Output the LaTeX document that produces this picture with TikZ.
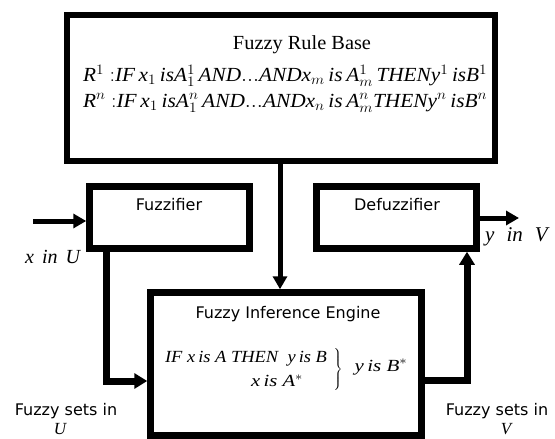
\documentclass[tikz,border=0pt]{standalone}
\usepackage{fontspec}
\usepackage{graphicx}
\setmainfont{Liberation Serif}
\newfontfamily\dvs{DejaVu Sans}
\usetikzlibrary{arrows.meta}
\newcommand{\mi}[1]{\mathit{#1}}
\newcommand{\fsz}[1]{\fontsize{#1}{#1}\selectfont}
\begin{document}
\begin{tikzpicture}[x=1pt,y=-1pt,
  box/.style={draw=black, line width=6.5pt, fill=white, inner sep=0pt},
  lbl/.style={inner sep=0pt, text=black},
  sans/.style={lbl, font=\dvs\fsz{16pt}},
  arr/.style={line width=5pt, -{Triangle[length=13pt,width=14pt]}},
  arrw/.style={line width=7pt, -{Triangle[length=13pt,width=15pt]}}]
\useasboundingbox (0,0) rectangle (555,439);
\fill[white] (0,0) rectangle (555,439);
% boxes
\node[box, minimum width=428pt, minimum height=146pt] (rule) at (281,88) {};
\node[box, minimum width=160pt, minimum height=62pt] (fuzz) at (169.5,217.5) {};
\node[box, minimum width=160pt, minimum height=62pt] (defuzz) at (396.5,217.5) {};
\node[box, minimum width=271pt, minimum height=143pt] (inf) at (286,364) {};
% rule base texts
\node[lbl] (rtitle) at (302,45) {\resizebox{138pt}{\height}{\fsz{20pt}Fuzzy Rule Base}};
\node[lbl, anchor=west] (r1) at (83,76) {\resizebox{404pt}{\height}{\fsz{20pt}$\mi{R}^{1}\ {:}\mi{IF}\,\mi{x}_{1}\,\mi{is}\mi{A}_{1}^{1}\,\mi{AND}{.}{.}{.}\mi{AND}\mi{x}_{m}\,\mi{is}\,\mi{A}_{m}^{1}\,\mi{THEN}\mi{y}^{1}\,\mi{is}\mi{B}^{1}$}};
\node[lbl, anchor=west] (rn) at (83,103) {\resizebox{404pt}{\height}{\fsz{20pt}$\mi{R}^{n}\ {:}\mi{IF}\,\mi{x}_{1}\,\mi{is}\mi{A}_{1}^{n}\,\mi{AND}{.}{.}{.}\mi{AND}\mi{x}_{n}\,\mi{is}\,\mi{A}_{m}^{n}\mi{THEN}\mi{y}^{n}\,\mi{is}\mi{B}^{n}$}};
% box titles
\node[sans] (tfuzz) at (169,205) {Fuzzifier};
\node[sans] (tdefuzz) at (397,205) {Defuzzifier};
\node[sans] (tinf) at (288,314) {Fuzzy Inference Engine};
% inference formula
\node[lbl] (f1) at (246,359) {\resizebox{162pt}{\height}{\fsz{17pt}$\mi{IF}\ \mi{x}\,\mi{is}\ \mi{A}\ \mi{THEN}\ \ \mi{y}\,\mi{is}\ \mi{B}$}};
\node[lbl] (f2) at (277,381) {\resizebox{52pt}{\height}{\fsz{17pt}$\mi{x}\,\mi{is}\ \mi{A}^{*}$}};
\node[lbl] (brace) at (338,370) {\nulldelimiterspace=0pt$\left.\vrule height 19pt depth 19pt width 0pt\right\}$};
\node[lbl] (f3) at (381,367) {\resizebox{53pt}{\height}{\fsz{17pt}$\mi{y}\,\mi{is}\ \mi{B}^{*}$}};
% outside labels
\node[lbl, anchor=west] (xin) at (25,257) {\fsz{20pt}\itshape x\hspace{8pt}in\hspace{8pt}U};
\node[lbl, anchor=west] (yin) at (485,237) {\fsz{21pt}\itshape y\hspace{12pt}in\hspace{12pt}V};
\node[sans] (fsu) at (66,411) {Fuzzy sets in};
\node[lbl] (fsuU) at (60,429) {\fsz{17pt}\itshape U};
\node[sans] (fsv) at (497,411) {Fuzzy sets in};
\node[lbl] (fsvV) at (506,429) {\fsz{17pt}\itshape V};
% connectors
\coordinate (inp) at (33,221);
\coordinate (outp) at (519,218);
\coordinate (fl) at (106,381);
\coordinate (fr) at (467,380);
\coordinate (rd) at (280,0);
\draw[arr] (inp) -- (inp -| fuzz.west);
\draw[arr] (defuzz.east |- outp) -- (outp);
\draw[arr] (rule.south -| rd) -- (inf.north -| rd);
\draw[arrw] (fuzz.south -| fl) |- (fl -| inf.west);
\draw[arrw] (fr -| inf.east) -| (fr |- defuzz.south);
\end{tikzpicture}
\end{document}
